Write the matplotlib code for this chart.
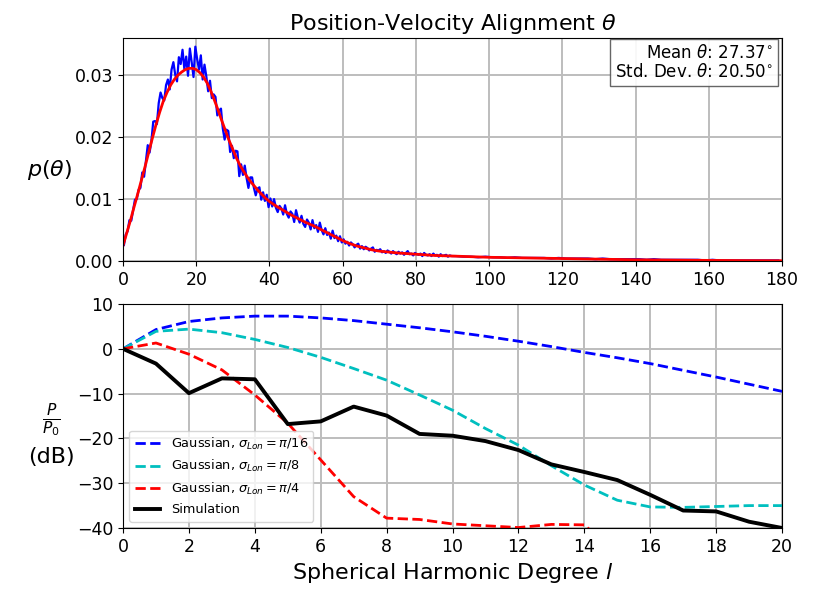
import numpy as np
import matplotlib
matplotlib.use("Agg")
import matplotlib.pyplot as plt

# histogram of alignment angle, values in units of 1e-4
# 0.5 deg bins from 0 to 90, then 2 deg bins from 90 to 180
hist_fine = [26, 43, 48, 66, 65, 82, 99, 100, 115, 118,
             143, 136, 162, 187, 175, 194, 225, 226, 221, 255, 272, 263, 259, 284,
             293, 277, 309, 321, 301, 290, 329, 318, 341, 310, 330, 299, 343, 321,
             297, 346, 326, 309, 332, 293, 317, 298, 274, 291, 263, 269,
             265, 235, 243, 246, 214, 196, 212, 210, 176, 186, 166, 178, 177, 137,
             156, 139, 154, 134, 118, 135, 135, 118, 106, 117, 119, 99, 111, 97, 107, 87,
             101, 88, 100, 86, 79, 89, 85, 75, 90, 76, 70, 80, 76, 63, 82, 70, 62, 73,
             60, 55, 67, 62, 51, 66, 53, 58, 47, 62, 50, 43, 53, 42, 46, 36, 49, 37,
             41, 32, 40, 30,
             35, 28, 31, 25, 30, 27, 22, 26, 28, 20, 24, 19, 23, 21, 17, 20, 22, 15,
             18, 17, 19, 14, 16, 13, 17, 15, 12, 16, 13, 11, 15, 12, 14, 10, 13, 16,
             11, 12, 9, 13, 11, 10, 12, 8, 13, 10, 9, 11, 8, 12, 9, 10, 7, 11, 8, 9,
             10, 7, 9, 8]
hist_coarse = [8, 7, 7, 6, 7, 6, 6, 5, 6, 5, 5, 5, 5, 4, 5, 4, 4, 4, 4, 3,
               4, 3, 3, 3, 3, 3, 2, 3, 2, 2, 2, 2, 2, 2, 1, 2, 1, 1, 1, 1,
               1, 1, 1, 1, 1]

# fitted density (red curve), units of 1e-4
theta_fit = [0, 1, 2, 3, 4, 5, 6, 7, 8, 9, 10, 11, 12, 13, 14, 15, 16, 17, 18, 19,
             20, 21, 22, 23, 24, 25, 26, 27, 28, 29, 30, 31, 32, 33, 34, 35, 36, 37,
             38, 39, 40, 42, 44, 46, 48, 50, 52, 54, 56, 58, 60, 62, 64, 66, 68, 70,
             75, 80, 85, 90, 95, 100, 110, 120, 130, 140, 150, 160, 170, 180]
p_fit = [25, 45, 65, 87, 108, 130, 152, 175, 198, 220, 240, 258, 272, 284, 293, 300,
         305, 309, 311, 311, 309, 304, 297, 287, 274, 259, 243, 226, 210, 194, 180,
         166, 154, 144, 135, 127, 120, 113, 107, 101, 96, 88, 81, 74, 68, 62, 57, 51,
         45, 39, 33, 28, 24, 21, 18, 16, 13, 11, 9, 8, 7, 6, 5, 4, 3, 2, 1.5, 1, 0.7,
         0.5]

mean_theta = 27.37
std_theta = 20.50

# angular power spectra (dB)
degree = list(range(21))
gauss_16 = [0, 4.3, 6.1, 6.9, 7.3, 7.3, 6.9, 6.3, 5.5, 4.7, 3.8, 2.8, 1.7, 0.5, -0.8,
            -2.0, -3.3, -4.8, -6.3, -7.9, -9.5]
gauss_8 = [0, 3.9, 4.4, 3.6, 2.1, 0.3, -1.9, -4.4, -7.0, -10.3, -13.7, -17.8, -21.5,
           -26.1, -30.4, -33.8, -35.3, -35.4, -35.2, -35.0, -35.0]
gauss_4 = [0, 1.3, -1.2, -4.7, -10.3, -16.6, -24.8, -33.0, -37.8, -38.1, -39.1, -39.5,
           -39.9, -39.2, -39.3, -46, -52, -58, -64, -70, -76]
simulation = [0, -3.3, -9.9, -6.6, -6.8, -16.8, -16.2, -12.9, -14.9, -19.0, -19.4,
              -20.6, -22.6, -25.8, -27.5, -29.3, -32.6, -36.1, -36.3, -38.6, -40.0]

fine_edges = np.arange(0, 90.01, 0.5)
coarse_edges = np.arange(90, 180.01, 2)
centers = np.concatenate([(fine_edges[:-1] + fine_edges[1:]) / 2,
                          (coarse_edges[:-1] + coarse_edges[1:]) / 2])
hist_vals = np.array(hist_fine + hist_coarse) * 1e-4

fig = plt.figure(figsize=(8.33, 5.9), dpi=100)
ax1 = fig.add_axes([0.1477, 0.5576, 0.7911, 0.3780])
ax2 = fig.add_axes([0.1477, 0.1051, 0.7911, 0.3796])

grid_kw = dict(color='#bdbdbd', linewidth=1.4)

# top panel
ax1.plot(centers, hist_vals, 'b-', linewidth=1.6)
ax1.plot(theta_fit, np.array(p_fit) * 1e-4, 'r-', linewidth=2)
ax1.set_xlim(0, 180)
ax1.set_ylim(0, 0.036)
ax1.set_xticks(range(0, 181, 20))
ax1.set_yticks([0, 0.01, 0.02, 0.03])
ax1.set_yticklabels(['0.00', '0.01', '0.02', '0.03'])
ax1.grid(True, **grid_kw)
ax1.set_axisbelow(True)
ax1.tick_params(labelsize=12.5)
ax1.set_title(r'Position-Velocity Alignment $\theta$', fontsize=16, pad=6)
ax1.set_ylabel(r'$p(\theta)$', fontsize=16, rotation=0, va='center', ha='center')
ax1.yaxis.set_label_coords(-0.111, 0.41)
ax1.text(0.986, 0.973,
         'Mean $\\theta$: %.2f$^{\\circ}$\nStd. Dev. $\\theta$: %.2f$^{\\circ}$' % (mean_theta, std_theta),
         transform=ax1.transAxes, ha='right', va='top', fontsize=12, linespacing=1.1,
         bbox=dict(boxstyle='square,pad=0.3', facecolor='white', edgecolor='#555555',
                   linewidth=1, alpha=0.9))

# bottom panel
ax2.plot(degree, gauss_16, 'b--', linewidth=2, label=r'Gaussian, $\sigma_{Lon} = \pi/16$')
ax2.plot(degree, gauss_8, 'c--', linewidth=2, label=r'Gaussian, $\sigma_{Lon} = \pi/8$')
ax2.plot(degree, gauss_4, 'r--', linewidth=2, label=r'Gaussian, $\sigma_{Lon} = \pi/4$')
ax2.plot(degree, simulation, 'k-', linewidth=2.8, label='Simulation')
ax2.set_xlim(0, 20)
ax2.set_ylim(-40, 10)
ax2.set_xticks(range(0, 21, 2))
ax2.set_yticks([-40, -30, -20, -10, 0, 10])
ax2.grid(True, **grid_kw)
ax2.set_axisbelow(True)
ax2.tick_params(labelsize=12.5)
ax2.set_xlabel(r'Spherical Harmonic Degree $l$', fontsize=16)
ax2.set_ylabel('$\\frac{P}{P_0}$\n(dB)', fontsize=16, rotation=0, va='center',
               ha='center', linespacing=1.5)
ax2.yaxis.set_label_coords(-0.109, 0.42)
ax2.legend(loc='lower left', fontsize=9.3)

fig.savefig('out.png', dpi=100)
